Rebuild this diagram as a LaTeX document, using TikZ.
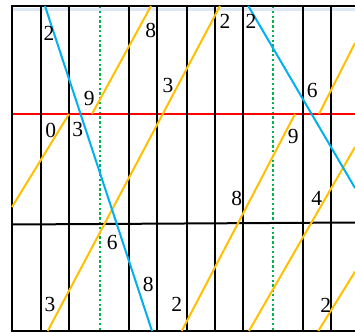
\documentclass[tikz,border=0pt]{standalone}
\usepackage{fontspec}
\setmainfont{Liberation Serif}
\definecolor{ylw}{RGB}{255,192,0}
\definecolor{cyn}{RGB}{0,176,240}
\definecolor{grn}{RGB}{0,176,80}
\definecolor{faint}{RGB}{222,232,244}
\begin{document}
\begin{tikzpicture}[x=1pt,y=-1pt,
  grid/.style={black,line width=2pt},
  yl/.style={ylw,line width=2pt},
  bl/.style={cyn,line width=2pt},
  rd/.style={red,line width=2pt},
  gd/.style={grn,line width=2pt,dash pattern=on 2.4pt off 2.4pt},
  lab/.style={inner sep=0pt,font=\fontsize{21.5}{21.5}\selectfont}]
\useasboundingbox (0,0) rectangle (355,332);
\clip (0,0) rectangle (355,332);
% faint band under the top line
\draw[faint,line width=3pt] (12,9.5) -- (355,9.5);
% green dotted
\foreach \x in {100,273} \draw[gd] (\x,6) -- (\x,331);
% red line
\draw[rd] (12,114) -- (355,114);
% black grid
\foreach \x in {12,41,69,129,157,187,215,243,303,331}
  \draw[grid] (\x,6) -- (\x,331);
\draw[grid] (11,6) -- (355,6);
\draw[grid] (11,331) -- (355,331);
\draw[grid] (12,224.5) -- (355,222.5);
% orange lines
\draw[yl] (12,207) -- (69,114);
\draw[yl] (92,114) -- (151,6);
\draw[yl] (47.7,331) -- (220,6);
\draw[yl] (181.7,331) -- (295,114);
\draw[yl] (319,114) -- (355,43);
\draw[yl] (249,331) -- (355,147);
\draw[yl] (318.3,331) -- (355,271.7);
% blue lines
\draw[bl] (45,6) -- (152,331);
\draw[bl] (248.3,6) -- (355,188);
% labels
\node[lab] (l1) at (49,33) {2};
\node[lab] (l2) at (150.7,30) {8};
\node[lab] (l3) at (89.3,98.3) {9};
\node[lab] (l4) at (168,85) {3};
\node[lab] (l5) at (50.7,130) {0};
\node[lab] (l6) at (77.7,129.3) {3};
\node[lab] (l7) at (225,21.7) {2};
\node[lab] (l8) at (251,21.7) {2};
\node[lab] (l9) at (312.3,90) {6};
\node[lab] (l10) at (293.3,136.7) {9};
\node[lab] (l11) at (112.3,242.7) {6};
\node[lab] (l12) at (148.3,284) {8};
\node[lab] (l13) at (50,304.3) {3};
\node[lab] (l14) at (176.7,304) {2};
\node[lab] (l15) at (236.7,198.3) {8};
\node[lab] (l16) at (316.7,198.3) {4};
\node[lab] (l17) at (325.7,305) {2};
\end{tikzpicture}
\end{document}
